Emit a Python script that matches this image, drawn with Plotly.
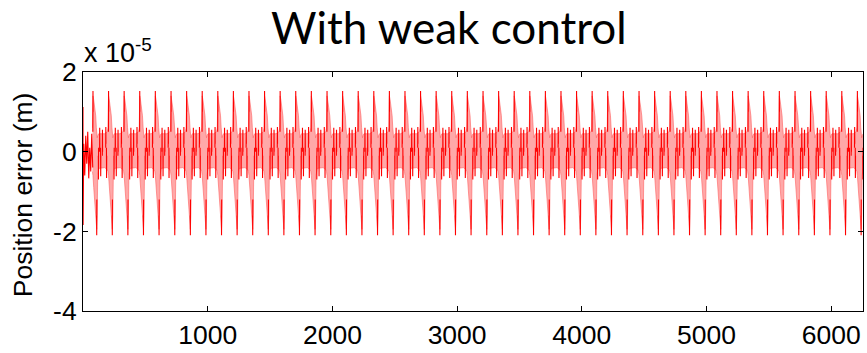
import plotly.graph_objects as go

# ---- data (position error in units of 1e-5 m, sample index on x) ----
EVENTS = [110, 235, 360, 485, 610, 736, 861, 986, 1111, 1236,
          1361, 1486, 1611, 1736, 1861, 1987, 2112, 2237, 2362, 2487,
          2612, 2737, 2862, 2987, 3112, 3238, 3363, 3488, 3613, 3738,
          3863, 3988, 4113, 4238, 4363, 4489, 4614, 4739, 4864, 4989,
          5114, 5239, 5364, 5489, 5614, 5740, 5865, 5990, 6115, 6240]

# envelope of the dense oscillation around one event (offset in samples)
ENV_OFF = [-62, -40, -34, -30, -24, -16, -8, -3, 0, 4, 8, 16, 62]
ENV_UP = [0.45, 0.50, 0.60, 1.40, 1.30, 1.10, 0.90, 0.60, 0.40, 0.35, 0.40, 0.45, 0.45]
ENV_LO = [-0.40, -0.45, -0.50, -0.60, -0.90, -1.35, -1.75, -1.95, -1.95, -1.60, -0.60, -0.42, -0.40]

# sharp single-sample excursions around one event
SPK_OFF = [[-53, -52, -51], [-47, -46, -45], [-31, -30, -29], [-1, 0, 1],
           [13, 14, 15], [23, 24, 25], [31, 32, 33], [45, 46, 47]]
SPK_Y = [[0.1, 0.62, 0.2], [0.1, -0.66, -0.1], [0.5, 1.52, 1.0], [-1.6, -2.1, -1.2],
         [-0.1, -0.70, 0.1], [0.0, 0.60, 0.1], [0.1, -0.62, -0.1], [-0.1, 0.55, 0.0]]

# start-up transient
INIT_X = [0, 1, 6, 14, 22, 30, 38, 46, 54, 62, 70, 78]
INIT_Y = [1.12, -1.84, 0.2, -0.6, 0.4, -0.3, 0.5, -0.67, 0.1, -0.5, 0.45, -0.4]

X_TICKS = [1000, 2000, 3000, 4000, 5000, 6000]
Y_TICKS = [-4, -2, 0, 2]
Y_TICKTEXT = ["-4", "-2", "0", "2"]

RED = "#ff0000"
PINK = "#ffa8a8"

# ---- build traces ----
ex, eu, el = [], [], []
for k, d in enumerate(EVENTS):
    for o, u, l in zip(ENV_OFF, ENV_UP, ENV_LO):
        if k == 0 and o < -34:
            continue
        ex.append(d + o)
        eu.append(u)
        el.append(l)

sx, sy = list(INIT_X), list(INIT_Y)
sx.append(None); sy.append(None)
for k, d in enumerate(EVENTS):
    for offs, ys in zip(SPK_OFF, SPK_Y):
        if k == 0 and offs[0] < -34:
            continue
        sx += [d + o for o in offs] + [None]
        sy += list(ys) + [None]

fig = go.Figure()
fig.add_trace(go.Scatter(x=ex, y=el, mode="lines",
                         line=dict(color="#ff6060", width=0.6), hoverinfo="skip"))
fig.add_trace(go.Scatter(x=ex, y=eu, mode="lines", fill="tonexty", fillcolor=PINK,
                         line=dict(color="#ff6060", width=0.6), hoverinfo="skip"))
fig.add_trace(go.Scatter(x=sx, y=sy, mode="lines", connectgaps=False,
                         line=dict(color=RED, width=1.1), hoverinfo="skip"))

axis_font = dict(family="Liberation Sans, Arial, sans-serif", size=26.5, color="black")
fig.update_layout(
    width=867, height=353,
    margin=dict(l=83, r=3, t=72, b=39),
    paper_bgcolor="white", plot_bgcolor="white",
    showlegend=False,
    font=axis_font,
    xaxis=dict(range=[0, 6255], tickvals=X_TICKS, ticks="inside", ticklen=5,
               tickcolor="black", showline=True, linecolor="black", linewidth=1,
               mirror="ticks", showgrid=False, zeroline=False, tickfont=axis_font),
    yaxis=dict(range=[-4, 2], tickvals=Y_TICKS, ticktext=Y_TICKTEXT, ticks="inside",
               ticklen=5, tickcolor="black", showline=True, linecolor="black",
               linewidth=1, mirror="ticks", showgrid=False, zeroline=False,
               tickfont=axis_font),
    annotations=[
        dict(text="With weak control", xref="paper", yref="paper", x=0.4688, y=1.19,
             xanchor="center", yanchor="middle", showarrow=False,
             font=dict(family="Lato, sans-serif", size=44, color="black")),
        dict(text="x 10<sup>-5</sup>", xref="paper", yref="paper", x=-0.001, y=1.008,
             xanchor="left", yanchor="bottom", showarrow=False,
             font=dict(family="Liberation Sans, Arial, sans-serif", size=27, color="black")),
        dict(text="Position error (m)", xref="paper", yref="paper", x=-0.0767, y=0.485,
             xanchor="center", yanchor="middle", textangle=-90, showarrow=False,
             font=axis_font),
    ],
)

fig.write_html("out.html")
